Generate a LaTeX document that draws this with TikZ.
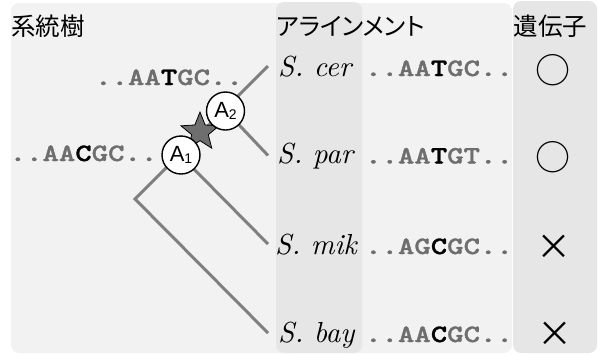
\documentclass[tikz,border=0pt]{standalone}
\usepackage{fontspec}
\usepackage{graphicx}
\usetikzlibrary{shapes.geometric}
\newfontfamily\jpfont{Noto Sans CJK JP}
\newfontfamily\jpprop{Noto Sans CJK JP}[RawFeature=+palt]
\newfontfamily\anclabel{Liberation Sans}
\newfontfamily\spfont{lmroman10-italic.otf}
\newfontfamily\seqfont{lmmonolt10-bold.otf}[FakeBold=1.2]
\definecolor{panelbg}{RGB}{242,242,242}
\definecolor{colbg}{RGB}{230,230,230}
\definecolor{branch}{RGB}{128,128,128}
\definecolor{seqgray}{RGB}{110,110,110}
\definecolor{starfill}{RGB}{110,110,110}
% aligned site: gray flanks, black variable position
\newcommand\seqsite[3]{\scalebox{1.25}[1]{\seqfont\color{seqgray}..#1\textcolor{black}{#2}#3..}}
\newcommand\species[1]{{\spfont\fontsize{29}{30}\selectfont #1}}
\newcommand\ancname[1]{{\anclabel\fontsize{22}{22}\selectfont A\raisebox{-1.5pt}{\fontsize{14}{14}\selectfont #1}}}
\tikzset{
  panel/.style={fill=panelbg, rounded corners=8pt},
  column/.style={fill=colbg, rounded corners=8pt},
  title/.style={anchor=base west, inner sep=0pt, font=\jpfont\fontsize{24.5}{28}\selectfont},
  sptext/.style={anchor=base west, inner sep=0pt},
  seqtext/.style={anchor=base, inner sep=0pt, font=\fontsize{25}{26}\selectfont},
  genemark/.style={anchor=center, inner sep=0pt, font=\jpfont\fontsize{35}{35}\selectfont},
  branchline/.style={draw=branch, line width=3pt},
  ancestor/.style={circle, draw=black, fill=white, line width=1.4pt, minimum size=38pt, inner sep=0pt},
  mutation/.style={star, star points=5, star point ratio=2.3, draw=black, fill=starfill, line width=0.8pt, minimum size=40pt, inner sep=0pt},
}
\begin{document}
\begin{tikzpicture}[x=1pt, y=-1pt]
\useasboundingbox (0,0) rectangle (602,354);

% background panels and shaded columns
\fill[panel] (11,3) rectangle (300,353);
\fill[panel] (340,3) rectangle (512,353);
\fill[column] (276,2) rectangle (362,353);
\fill[column] (513,1) rectangle (597,353);

% headings
\node[title] (hTree) at (11,35) {系統樹};
\node[title, font=\jpprop\fontsize{24.5}{28}\selectfont] (hAlign) at (276,35) {アラインメント};
\node[title] (hGene) at (513.5,35) {遺伝子};

% tree points (cladogram turned by 45 degrees)
\coordinate (root) at (135,199);
\coordinate (n1) at (179.5,154.5);
\coordinate (n2) at (224.5,109.5);
\coordinate (lcer) at (268,66);
\coordinate (lpar) at (268,155.5);
\coordinate (lmik) at (268,244);
\coordinate (lbay) at (268,333);

\draw[branchline] (lbay) -- (root) -- (n1) -- (n2) -- (lcer);
\draw[branchline] (n1) -- (lmik);
\draw[branchline] (n2) -- (lpar);

% substitution on the internal branch, ancestral states
\node[mutation] (subst) at (200,132) {};
\node[ancestor] (A1) at (181,155) {\ancname{1}};
\node[ancestor] (A2) at (225.5,111) {\ancname{2}};

\node[seqtext] (seqA2) at (169,85) {\seqsite{AA}{T}{GC}};
\node[seqtext] (seqA1) at (83.5,161) {\seqsite{AA}{C}{GC}};

% species
\node[sptext] (cer) at (278,76) {\species{S. cer}};
\node[sptext] (par) at (277,163.5) {\species{S. par}};
\node[sptext] (mik) at (275,254) {\species{S. mik}};
\node[sptext] (bay) at (278,342) {\species{S. bay}};

% aligned sequences
\node[seqtext] (alcer) at (439,76) {\seqsite{AA}{T}{GC}};
\node[seqtext] (alpar) at (439,163.5) {\seqsite{AA}{T}{GT}};
\node[seqtext] (almik) at (439,254) {\seqsite{AG}{C}{GC}};
\node[seqtext] (albay) at (439,342) {\seqsite{AA}{C}{GC}};

% gene present / absent
\node[genemark] (gcer) at (553,70) {○};
\node[genemark] (gpar) at (553,157.5) {○};
\node[genemark] (gmik) at (554,247) {×};
\node[genemark] (gbay) at (555,334) {×};
\end{tikzpicture}
\end{document}
